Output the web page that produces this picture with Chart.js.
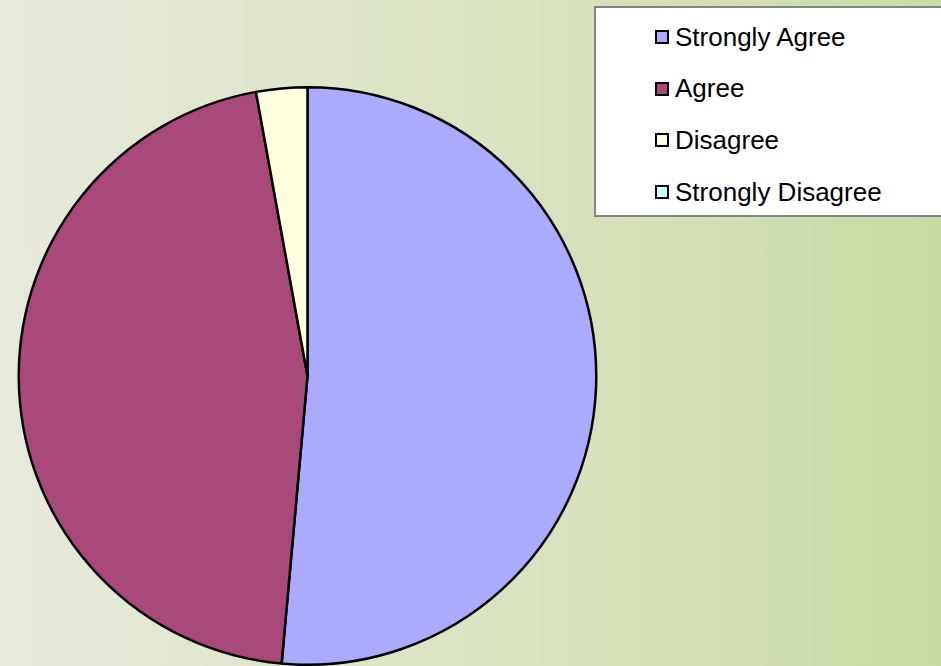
<!DOCTYPE html>
<html>
<head>
<meta charset="utf-8">
<script src="https://cdn.jsdelivr.net/npm/chart.js@4.4.0/dist/chart.umd.min.js"></script>
<style>
    html, body {
        margin: 0;
        padding: 0;
        width: 941px;
        height: 666px;
        overflow: hidden;
    }
    body {
        background: linear-gradient(to right, #e7e9dc 0%, #d7e2bc 62%, #c9dba3 100%);
        font-family: "Liberation Sans", Arial, sans-serif;
        position: relative;
    }
    #chart-wrap {
        position: absolute;
        left: 0;
        top: 0;
        width: 941px;
        height: 666px;
    }
    #legend {
        position: absolute;
        left: 594px;
        top: 6px;
        width: 360px;
        height: 211px;
        background: #ffffff;
        border: 2px solid #858585;
        box-sizing: border-box;
    }
    .legend-item {
        position: absolute;
        left: 59px;
        height: 30px;
        display: flex;
        align-items: center;
        font-size: 26px;
        color: #000;
        white-space: nowrap;
    }
    .legend-box {
        width: 10px;
        height: 10px;
        border: 2px solid #000;
        margin-right: 6px;
        flex: none;
    }
</style>
</head>
<body>
<div id="chart-wrap"><canvas id="pieChart"></canvas></div>
<div id="legend"></div>

<script>
// Survey responses
const categories = ['Strongly Agree', 'Agree', 'Disagree', 'Strongly Disagree'];
const responses = [18, 16, 1, 0];
const sliceColors = ['#aaaaff', '#a9497a', '#ffffdd', '#ccffff'];

// Build the legend box
function buildLegend() {
    const legend = document.getElementById('legend');
    categories.forEach((label, i) => {
        const item = document.createElement('div');
        item.className = 'legend-item';
        item.style.top = (14 + i * 51.7) + 'px';
        const box = document.createElement('span');
        box.className = 'legend-box';
        box.style.background = sliceColors[i];
        const text = document.createElement('span');
        text.textContent = label;
        item.appendChild(box);
        item.appendChild(text);
        legend.appendChild(item);
    });
}

// Create pie chart
function createPie() {
    const ctx = document.getElementById('pieChart').getContext('2d');

    new Chart(ctx, {
        type: 'pie',
        data: {
            labels: categories,
            datasets: [{
                data: responses,
                backgroundColor: sliceColors,
                borderColor: '#000000',
                borderWidth: 2.5
            }]
        },
        options: {
            responsive: true,
            maintainAspectRatio: false,
            animation: false,
            layout: {
                padding: { left: 17, top: 86, right: 343, bottom: 0 }
            },
            plugins: {
                legend: { display: false },
                tooltip: { enabled: false }
            }
        }
    });
}

buildLegend();
createPie();
</script>
</body>
</html>
